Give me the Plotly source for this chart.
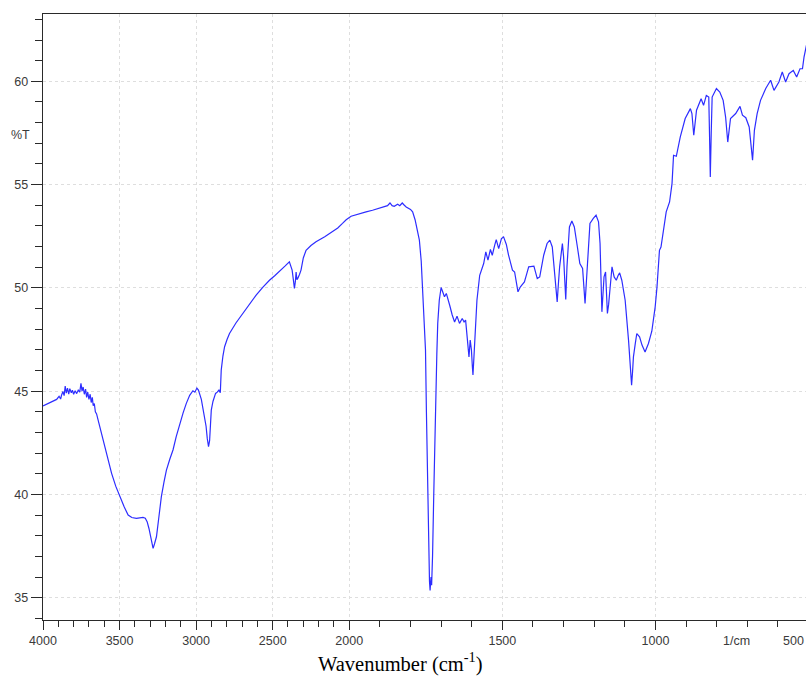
import plotly.graph_objects as go

# ---------------- data ----------------
WAVENUMBER = [
    4000, 3980, 3954, 3930, 3911, 3895, 3885, 3879, 3870, 3862, 3855, 3848, 3840, 3832, 3825, 3815,
    3808, 3800, 3790, 3780, 3770, 3760, 3752, 3745, 3738, 3730, 3722, 3715, 3708, 3700, 3692, 3685,
    3678, 3672, 3665, 3658, 3650, 3635, 3618, 3600, 3585, 3570, 3552, 3525, 3498, 3470, 3444, 3420,
    3390, 3365, 3347, 3332, 3320, 3308, 3298, 3288, 3281, 3272, 3259, 3245, 3227, 3210, 3194, 3172,
    3151, 3130, 3107, 3085, 3064, 3042, 3021, 3008, 2995, 2985, 2966, 2955, 2945, 2935, 2927, 2919,
    2912, 2905, 2901, 2890, 2873, 2862, 2851, 2842, 2836, 2825, 2814, 2798, 2782, 2740, 2695, 2650,
    2608, 2565, 2521, 2485, 2445, 2420, 2391, 2380, 2373, 2365, 2358, 2352, 2347, 2342, 2337, 2325,
    2315, 2300, 2282, 2250, 2217, 2160, 2109, 2075, 2044, 2020, 1994, 1967, 1945, 1924, 1900, 1885,
    1875, 1867, 1860, 1853, 1847, 1842, 1835, 1827, 1820, 1814, 1800, 1793, 1785, 1778, 1771, 1765,
    1760, 1755, 1751, 1748, 1744, 1741, 1738, 1736, 1733, 1731, 1728, 1724, 1719, 1718, 1714, 1711,
    1706, 1700, 1695, 1689, 1683, 1678, 1672, 1664, 1656, 1648, 1640, 1631, 1625, 1620, 1616, 1612,
    1609, 1605, 1601, 1598, 1596, 1593, 1590, 1583, 1574, 1561, 1554, 1547, 1539, 1533, 1525, 1520,
    1512, 1503, 1496, 1487, 1480, 1475, 1467, 1460, 1455, 1449, 1441, 1428, 1420, 1414, 1397, 1390,
    1386, 1378, 1372, 1365, 1354, 1345, 1337, 1332, 1326, 1321, 1317, 1313, 1304, 1300, 1296, 1293,
    1289, 1285, 1281, 1273, 1265, 1255, 1247, 1238, 1234, 1230, 1226, 1222, 1214, 1203, 1194, 1186,
    1181, 1178, 1175, 1171, 1168, 1163, 1160, 1157, 1153, 1150, 1142, 1135, 1128, 1122, 1117, 1110,
    1099, 1088, 1083, 1078, 1075, 1072, 1066, 1061, 1052, 1044, 1034, 1023, 1012, 1001, 995, 987,
    982, 974, 965, 954, 946, 941, 932, 919, 903, 886, 881, 875, 870, 866, 851, 843,
    834, 826, 823, 821, 818, 815, 801, 790, 779, 771, 764, 760, 755, 738, 724, 716,
    705, 694, 686, 683, 680, 677, 668, 657, 640, 624, 613, 597, 586, 575, 564, 550,
    539, 528, 520, 515, 506, 500,
]
TRANSMITTANCE = [
    44.28, 44.35, 44.42, 44.50, 44.60, 44.75, 44.62, 44.80, 44.98, 44.78, 45.25, 44.90, 45.15, 44.85, 45.12, 44.92,
    45.05, 44.85, 45.02, 44.88, 45.05, 44.95, 45.38, 45.00, 45.20, 44.85, 45.10, 44.70, 44.95, 44.60, 44.85, 44.45,
    44.70, 44.30, 44.40, 44.00, 43.90, 43.45, 42.95, 42.45, 41.99, 41.55, 41.02, 40.40, 39.89, 39.40, 39.00, 38.88,
    38.84, 38.87, 38.89, 38.85, 38.68, 38.35, 37.95, 37.55, 37.39, 37.60, 37.95, 38.80, 39.89, 40.60, 41.18, 41.70,
    42.15, 42.80, 43.44, 43.95, 44.41, 44.80, 45.02, 44.95, 45.15, 45.05, 44.60, 44.20, 43.76, 43.30, 42.70, 42.31,
    42.60, 43.50, 44.08, 44.50, 44.89, 44.95, 45.05, 44.92, 46.02, 46.70, 47.15, 47.50, 47.79, 48.30, 48.76, 49.20,
    49.65, 50.02, 50.37, 50.60, 50.86, 51.05, 51.26, 51.00, 50.86, 50.40, 49.97, 50.30, 50.77, 50.40, 50.45, 50.65,
    50.86, 51.45, 51.82, 52.05, 52.23, 52.48, 52.71, 52.90, 53.12, 53.30, 53.47, 53.60, 53.68, 53.76, 53.85, 53.92,
    53.98, 54.11, 53.98, 53.95, 54.02, 54.05, 53.98, 54.11, 54.00, 53.92, 53.80, 53.68, 53.30, 52.80, 52.31, 51.30,
    49.89, 48.50, 46.99, 44.00, 40.00, 37.00, 35.80, 35.35, 36.00, 35.60, 37.00, 40.00, 44.00, 44.57, 46.80, 48.28,
    49.40, 50.02, 49.80, 49.57, 49.73, 49.40, 49.16, 48.70, 48.35, 48.63, 48.28, 48.52, 48.35, 48.44, 47.80, 47.15,
    46.66, 47.47, 46.99, 46.20, 45.78, 46.60, 47.47, 49.40, 50.61, 51.18, 51.74, 51.34, 51.86, 51.58, 52.07, 52.34,
    51.90, 52.39, 52.47, 52.10, 51.60, 51.34, 50.86, 50.77, 50.40, 49.81, 50.05, 50.29, 50.70, 51.02, 51.05, 50.70,
    50.45, 50.53, 51.00, 51.58, 52.15, 52.31, 51.98, 51.02, 50.00, 49.32, 50.20, 51.02, 52.15, 51.50, 50.30, 49.44,
    51.02, 52.20, 52.95, 53.24, 52.95, 51.98, 51.18, 50.94, 50.20, 49.24, 50.20, 51.34, 53.12, 53.36, 53.52, 53.20,
    52.15, 50.50, 48.84, 49.80, 50.53, 50.77, 49.80, 48.76, 49.20, 49.73, 51.02, 50.53, 50.37, 50.60, 50.73, 50.37,
    49.40, 47.47, 46.34, 45.29, 45.90, 46.66, 47.30, 47.79, 47.63, 47.23, 46.90, 47.31, 47.90, 49.08, 50.05, 51.82,
    51.98, 52.79, 53.68, 54.16, 55.05, 56.42, 56.37, 57.31, 58.20, 58.68, 58.44, 57.39, 58.00, 58.60, 59.16, 58.84,
    59.32, 59.24, 57.00, 55.37, 57.50, 59.24, 59.65, 59.48, 59.08, 58.27, 57.06, 57.60, 58.20, 58.44, 58.79, 58.36,
    58.24, 57.79, 56.80, 56.18, 56.90, 57.63, 58.44, 59.08, 59.65, 60.05, 59.56, 59.97, 60.45, 59.97, 60.37, 60.53,
    60.21, 60.61, 60.61, 61.17, 61.82, 62.10,
]

MAJOR_X_TICKS = [4000, 3500, 3000, 2500, 2000, 1500, 1000]
MAJOR_X_LABELS = ["4000", "3500", "3000", "2500", "2000", "1500", "1000"]
MINOR_X_TICKS = [w for w in range(3900, 500, -100) if w % 500 != 0]
Y_TICKS = [35, 40, 45, 50, 55, 60]
Y_LABELS = ["35", "40", "45", "50", "55", "60"]
END_LABEL = "500"
UNIT_LABEL = "1/cm"
Y_TITLE = "%T"
X_TITLE = "Wavenumber (cm<sup>-1</sup>)"


# Instrument-style split axis: 4000-2000 at half the scale of 2000-500
def axis_pos(w):
    return (4000 - w) if w >= 2000 else 2000 + 2 * (2000 - w)


u = [axis_pos(w) for w in WAVENUMBER]

AX_COLOR = "#2a2a2a"
TICK_FONT = dict(family="Liberation Sans, Arial, sans-serif", size=12.5, color="#3a3a3a")
GRID = "#dedede"

fig = go.Figure()
fig.add_trace(go.Scatter(
    x=u, y=TRANSMITTANCE, mode="lines",
    line=dict(color="rgb(45,45,255)", width=1.2),
    showlegend=False, hoverinfo="skip",
))

fig.update_layout(
    width=806, height=699,
    margin=dict(l=43, r=0, t=14, b=79, autoexpand=False),
    paper_bgcolor="white", plot_bgcolor="white",
    xaxis=dict(
        range=[0, 4983], automargin=False,
        tickmode="array",
        tickvals=[axis_pos(w) for w in MAJOR_X_TICKS],
        ticktext=MAJOR_X_LABELS,
        ticks="outside", ticklen=9, tickwidth=1, tickcolor=AX_COLOR,
        tickfont=TICK_FONT,
        showline=True, linecolor=AX_COLOR, linewidth=1.3, mirror=True,
        showgrid=True, gridcolor=GRID, griddash="dot", gridwidth=1,
        zeroline=False,
        minor=dict(tickmode="array", tickvals=[axis_pos(w) for w in MINOR_X_TICKS],
                   ticks="outside", ticklen=6, tickcolor=AX_COLOR, showgrid=False),
    ),
    yaxis=dict(
        range=[33.92, 63.26], automargin=False,
        tickmode="array", tickvals=Y_TICKS, ticktext=Y_LABELS,
        ticks="outside", ticklen=11, tickwidth=1, tickcolor=AX_COLOR,
        tickfont=TICK_FONT,
        showline=True, linecolor=AX_COLOR, linewidth=1.3,
        showgrid=True, gridcolor=GRID, griddash="dot", gridwidth=1,
        zeroline=False,
        minor=dict(dtick=1, tick0=0, ticks="outside", ticklen=7, tickcolor=AX_COLOR, showgrid=False),
    ),
)

fig.add_annotation(text=END_LABEL, xref="paper", yref="paper", x=1.0, y=0,
                   xanchor="right", yanchor="top", yshift=-12, showarrow=False, font=TICK_FONT)
fig.add_annotation(text=UNIT_LABEL, xref="x", yref="paper", x=axis_pos(735), y=0,
                   xanchor="center", yanchor="top", yshift=-12, showarrow=False, font=TICK_FONT)
fig.add_annotation(text=Y_TITLE, xref="paper", yref="y", x=-0.029, y=57.4,
                   xanchor="center", yanchor="middle", showarrow=False, font=TICK_FONT)
fig.add_annotation(text=X_TITLE, xref="paper", yref="paper", x=0.469, y=0,
                   xanchor="center", yanchor="middle", yshift=-42, showarrow=False,
                   font=dict(family="Liberation Serif, Times New Roman, serif", size=20.5, color="black"))

# remove the page's default body margin so the figure sits at the window origin
fig.write_html(
    "out.html",
    config={"displayModeBar": False, "staticPlot": True},
    post_script="document.body.style.margin='0';document.body.style.overflow='hidden';",
)
